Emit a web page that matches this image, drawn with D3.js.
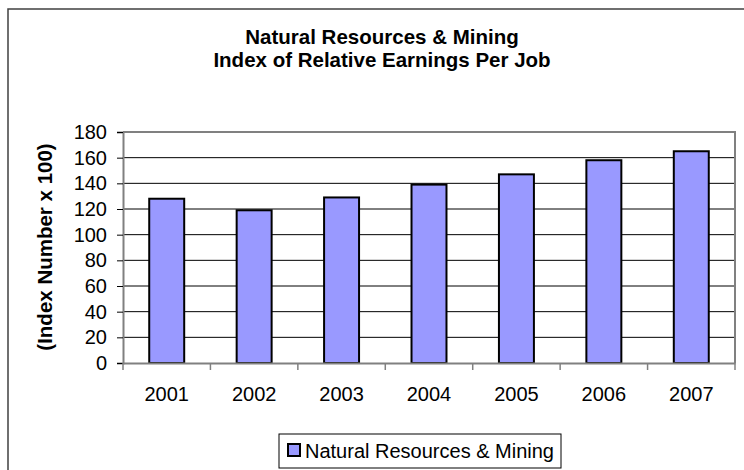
<!DOCTYPE html>
<html>
<head>
<meta charset="utf-8">
<script src="https://cdn.jsdelivr.net/npm/d3@7"></script>
<style>
html,body{margin:0;padding:0;background:#fff;}
svg{display:block;font-family:Arial,"Liberation Sans",sans-serif;}
</style>
</head>
<body>
<svg id="chart" width="744" height="470"></svg>
<script>
const titleLines = ["Natural Resources & Mining", "Index of Relative Earnings Per Job"];
const yAxisTitle = "(Index Number x 100)";
const seriesName = "Natural Resources & Mining";
const years = ["2001", "2002", "2003", "2004", "2005", "2006", "2007"];
const values = [128, 119, 129, 139, 147, 158, 165];
const yTicks = [0, 20, 40, 60, 80, 100, 120, 140, 160, 180];

const svg = d3.select("#chart");
const plot = {left: 123, right: 735, top: 132, bottom: 363};

// outer chart border
svg.append("rect").attr("x", 8).attr("y", 9).attr("width", 760).attr("height", 480)
  .attr("fill", "#fff").attr("stroke", "#404040").attr("stroke-width", 1.5);

// titles
svg.selectAll("text.title").data(titleLines).enter().append("text")
  .attr("class", "title")
  .attr("x", 382).attr("y", (d, i) => 44 + i * 23)
  .attr("text-anchor", "middle").attr("font-size", 20.5).attr("font-weight", "bold")
  .text(d => d);

const x = d3.scaleBand().domain(years).range([plot.left, plot.right])
  .paddingInner(0.6).paddingOuter(0.3);
const y = d3.scaleLinear().domain([0, 180]).range([plot.bottom, plot.top]);

// gridlines
svg.append("g").selectAll("line").data(yTicks.filter(d => d > 0)).enter().append("line")
  .attr("x1", plot.left).attr("x2", plot.right)
  .attr("y1", d => y(d)).attr("y2", d => y(d))
  .attr("stroke", "#000").attr("stroke-width", 1);

// plot border (top/right gray)
svg.append("path")
  .attr("d", `M${plot.left},${plot.top}H${plot.right}V${plot.bottom}`)
  .attr("fill", "none").attr("stroke", "#808080").attr("stroke-width", 2);

// bars
svg.append("g").selectAll("rect").data(values).enter().append("rect")
  .attr("x", (d, i) => x(years[i]))
  .attr("y", d => y(d))
  .attr("width", x.bandwidth())
  .attr("height", d => y(0) - y(d))
  .attr("fill", "#9999FF").attr("stroke", "#000").attr("stroke-width", 2);

// y axis
const yAxis = d3.axisLeft(y).tickValues(yTicks).tickSize(6).tickPadding(10);
const gy = svg.append("g").attr("transform", `translate(${plot.left},0)`).call(yAxis);
gy.select(".domain").attr("stroke", "#808080").attr("stroke-width", 2);
gy.selectAll(".tick line").attr("stroke", "#000");
gy.selectAll(".tick text").attr("font-size", 20).attr("font-family", "Arial, 'Liberation Sans', sans-serif").attr("fill", "#000");

// x axis
const xAxis = d3.axisBottom(x).tickSize(0).tickPadding(0);
const gx = svg.append("g").attr("transform", `translate(0,${plot.bottom})`).call(xAxis);
gx.select(".domain").attr("stroke", "#808080").attr("stroke-width", 2);
gx.selectAll(".tick text").attr("font-size", 20).attr("font-family", "Arial, 'Liberation Sans', sans-serif")
  .attr("fill", "#000").attr("dy", null).attr("y", 38);
// category boundary ticks
const step = x.step();
const bounds = d3.range(years.length + 1).map(i => plot.left + i * step);
svg.append("g").selectAll("line").data(bounds).enter().append("line")
  .attr("x1", d => d).attr("x2", d => d)
  .attr("y1", plot.bottom).attr("y2", plot.bottom + 7)
  .attr("stroke", "#808080").attr("stroke-width", 1.5);

// y axis title
svg.append("text")
  .attr("transform", "translate(52,247) rotate(-90)")
  .attr("text-anchor", "middle").attr("font-size", 20.5).attr("font-weight", "bold")
  .text(yAxisTitle);

// legend
const lg = svg.append("g");
lg.append("rect").attr("x", 279).attr("y", 434).attr("width", 282).attr("height", 34)
  .attr("fill", "#fff").attr("stroke", "#000").attr("stroke-width", 1);
lg.append("rect").attr("x", 288).attr("y", 444).attr("width", 12).attr("height", 12)
  .attr("fill", "#9999FF").attr("stroke", "#000").attr("stroke-width", 2);
lg.append("text").attr("x", 305).attr("y", 458).attr("font-size", 20).text(seriesName);
</script>
</body>
</html>
